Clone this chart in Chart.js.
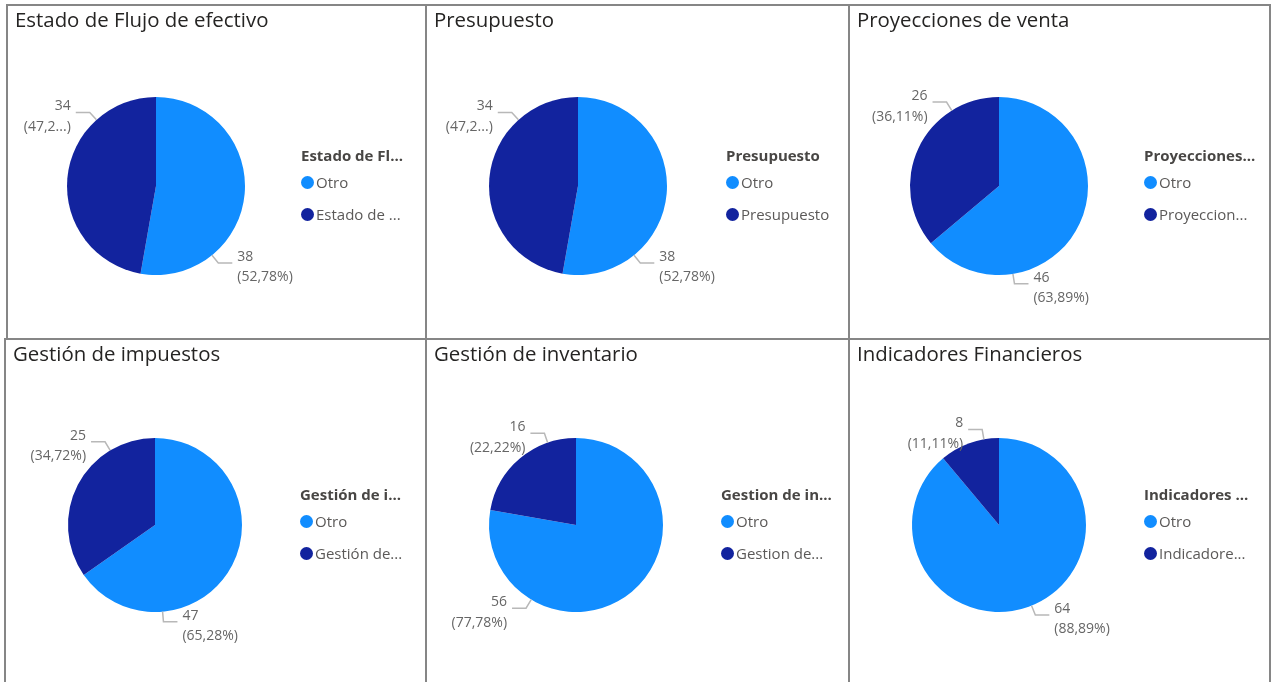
<!DOCTYPE html>
<html>
<head>
<meta charset="utf-8">
<script src="https://cdn.jsdelivr.net/npm/chart.js@4.4.1/dist/chart.umd.min.js"></script>
<style>
  body { margin: 0; background: #fff; font-family: 'Open Sans', sans-serif; }
  #board { position: relative; width: 1272px; height: 682px; overflow: hidden; }
  .panel { position: absolute; box-sizing: border-box; border: 2px solid #868686; background: #fff; }
  .panel canvas { position: absolute; left: 0; top: 0; }
  .ptitle { position: absolute; left: 7px; top: 0; font-size: 20.4px; line-height: 26px; color: #252423; white-space: nowrap; }
  .ltitle { position: absolute; font-size: 15px; font-weight: 700; line-height: 20px; color: #484644; white-space: nowrap; }
  .litem { position: absolute; font-size: 15px; line-height: 20px; color: #5b5958; white-space: nowrap; }
  .litem i { display: inline-block; width: 13px; height: 13px; border-radius: 50%; vertical-align: -1px; margin-right: 2px; }
</style>
</head>
<body>
<div id="board"></div>
<script>
// data
const panelTitles = ['Estado de Flujo de efectivo', 'Presupuesto', 'Proyecciones de venta',
                     'Gestión de impuestos', 'Gestión de inventario', 'Indicadores Financieros'];
const legendTitles = ['Estado de Fl...', 'Presupuesto', 'Proyecciones...',
                      'Gestión de i...', 'Gestion de in...', 'Indicadores ...'];
const categories = [
  ['Otro', 'Estado de ...'],
  ['Otro', 'Presupuesto'],
  ['Otro', 'Proyeccion...'],
  ['Otro', 'Gestión de...'],
  ['Otro', 'Gestion de...'],
  ['Otro', 'Indicadore...']
];
const otroValues = [38, 38, 46, 47, 56, 64];
const areaValues = [34, 34, 26, 25, 16, 8];
const sliceColors = ['#118DFF', '#12239E'];

// layout
const panelBoxes = [[6, 4, 421, 336], [425, 4, 425, 336], [848, 4, 423, 336],
                    [4, 338, 423, 360], [425, 338, 425, 360], [848, 338, 423, 360]];
const pieX = [148, 151, 149, 149, 149, 149];
const pieY = [180, 180, 180, 185, 185, 185];
const pieR = [89, 89, 89, 87, 87, 87];
const legendDx = [145, 148, 145, 145, 145, 145];
// where Power BI put the data labels (degrees clockwise from 12 o'clock)
const labelAngles = [[141, 318], [141, 318], [171, 328], [175, 329], [211, 341], [158, 350]];

function pct(v, total) {
  return (v / total * 100).toFixed(2).replace('.', ',') + '%';
}

const pieLabels = {
  id: 'pieLabels',
  afterDatasetsDraw(chart, args, opts) {
    const ctx = chart.ctx;
    const values = chart.data.datasets[0].data;
    const total = values.reduce((a, b) => a + b, 0);
    const arcs = chart.getDatasetMeta(0).data;
    ctx.save();
    ctx.font = '14px "Open Sans"';
    ctx.textBaseline = 'middle';
    arcs.forEach((arc, i) => {
      const p = arc.getProps(['x', 'y', 'outerRadius'], true);
      const a = opts.angles[i] * Math.PI / 180;
      const sx = Math.sin(a), sy = -Math.cos(a);
      const right = sx >= 0;
      const ex = p.x + (p.outerRadius + 10) * sx;
      const ey = p.y + (p.outerRadius + 10) * sy;
      const hx = ex + (right ? 14 : -14);
      ctx.strokeStyle = '#b8b8b8';
      ctx.lineWidth = 1.5;
      ctx.beginPath();
      ctx.moveTo(p.x + p.outerRadius * sx, p.y + p.outerRadius * sy);
      ctx.lineTo(ex, ey);
      ctx.lineTo(hx, ey);
      ctx.stroke();
      const tx = hx + (right ? 5 : -5);
      const room = right ? chart.width - tx - 12 : tx - 12;
      let txt = '(' + pct(values[i], total) + ')';
      if (ctx.measureText(txt).width > room) {
        let s = txt.slice(0, -1);
        while (s.length && ctx.measureText(s + '...)').width > room) s = s.slice(0, -1);
        txt = s + '...)';
      }
      ctx.fillStyle = '#666';
      ctx.textAlign = right ? 'left' : 'right';
      ctx.fillText(String(values[i]), tx, ey - 6);
      ctx.fillText(txt, tx, ey + 14.5);
    });
    ctx.restore();
  }
};

const board = document.getElementById('board');

panelTitles.forEach((title, k) => {
  const [left, top, w, h] = panelBoxes[k];
  const panel = document.createElement('div');
  panel.className = 'panel';
  Object.assign(panel.style, { left: left + 'px', top: top + 'px', width: w + 'px', height: h + 'px' });
  board.appendChild(panel);

  const cw = w - 4, ch = h - 4;
  const canvas = document.createElement('canvas');
  canvas.width = cw;
  canvas.height = ch;
  panel.appendChild(canvas);

  const t = document.createElement('div');
  t.className = 'ptitle';
  t.textContent = title;
  panel.appendChild(t);

  const cx = pieX[k], cy = pieY[k], r = pieR[k];
  const chart = new Chart(canvas, {
    type: 'pie',
    data: {
      labels: categories[k],
      datasets: [{
        data: [otroValues[k], areaValues[k]],
        backgroundColor: sliceColors,
        borderWidth: 0
      }]
    },
    options: {
      responsive: false,
      animation: false,
      layout: { padding: { left: cx - r, right: cw - cx - r, top: cy - r, bottom: ch - cy - r } },
      plugins: {
        legend: { display: false },
        tooltip: { enabled: false },
        pieLabels: { angles: labelAngles[k] }
      }
    },
    plugins: [pieLabels]
  });

  // legend built from the chart's own labels and colours
  const lx = cx + legendDx[k];
  const lt = document.createElement('div');
  lt.className = 'ltitle';
  lt.textContent = legendTitles[k];
  Object.assign(lt.style, { left: lx + 'px', top: (cy - 41) + 'px' });
  panel.appendChild(lt);
  chart.data.labels.forEach((lab, i) => {
    const it = document.createElement('div');
    it.className = 'litem';
    Object.assign(it.style, { left: lx + 'px', top: (cy - 14 + 32 * i) + 'px' });
    const dot = document.createElement('i');
    dot.style.background = chart.data.datasets[0].backgroundColor[i];
    it.appendChild(dot);
    it.appendChild(document.createTextNode(lab));
    panel.appendChild(it);
  });
});
</script>
</body>
</html>
